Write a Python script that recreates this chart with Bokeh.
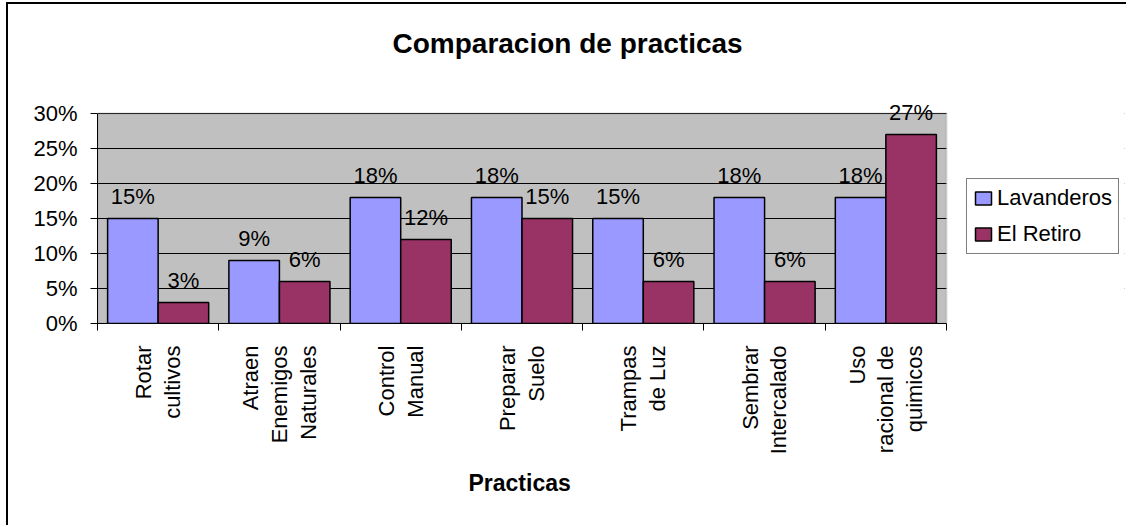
import math
from bokeh.plotting import figure
from bokeh.core.properties import value
from bokeh.models import (ColumnDataSource, Range1d, FixedTicker, NumeralTickFormatter,
                          LabelSet, Legend, LegendItem, BoxAnnotation, Title)
from bokeh.transform import dodge
from bokeh.embed import file_html
from bokeh.resources import INLINE

categories = ["Rotar\ncultivos", "Atraen\nEnemigos\nNaturales", "Control\nManual",
              "Preparar\nSuelo", "Trampas\nde Luz", "Sembrar\nIntercalado",
              "Uso\nracional de\nquimicos"]
lavanderos = [0.15, 0.09, 0.18, 0.18, 0.15, 0.18, 0.18]
el_retiro = [0.03, 0.06, 0.12, 0.15, 0.06, 0.06, 0.27]
y_ticks = [0.0, 0.05, 0.10, 0.15, 0.20, 0.25, 0.30]
series_names = ["Lavanderos", "El Retiro"]

FONT = "Liberation Sans"
n = len(categories)
y_max = y_ticks[-1]
xs = [i + 0.5 for i in range(n)]
src = ColumnDataSource(dict(
    x=xs, lav=lavanderos, ret=el_retiro,
    lav_t=[f"{round(v * 100)}%" for v in lavanderos],
    ret_t=[f"{round(v * 100)}%" for v in el_retiro],
))

# the frame extends above 30% and to the right of the last category so that the
# top data label and the legend are not clipped; the grey box marks the plot area
p = figure(width=1120, height=523, x_range=Range1d(0, n + 1.4676), y_range=Range1d(0, 0.35),
           output_backend="svg", toolbar_location=None,
           min_border_left=89, min_border_top=74, min_border_right=4, min_border_bottom=204,
           background_fill_color="white", border_fill_color="white",
           outline_line_color=None,
           title="Comparacion de practicas")
p.styles = {"margin-left": "6px", "margin-top": "2px",
            "border-left": "2px solid #000", "border-top": "2px solid #000"}

p.title.text_font = FONT
p.title.text_font_size = "28px"
p.title.text_font_style = "bold"
p.title.text_color = "black"
p.title.align = "left"
p.title.offset = 295
p.title.standoff = 40

# grey plot area (0% .. 30%)
p.add_layout(BoxAnnotation(left=0, right=n, bottom=0, top=y_max, fill_color="#C0C0C0",
                           fill_alpha=1, line_color=None, level="image"))

bw = 0.4167
r1 = p.vbar(x=dodge("x", -bw / 2), top="lav", width=bw, source=src,
            fill_color="#9999FF", line_color="black", line_width=1.5)
r2 = p.vbar(x=dodge("x", bw / 2), top="ret", width=bw, source=src,
            fill_color="#993366", line_color="black", line_width=1.5)

# hide the gridlines to the right of the plot area
p.add_layout(BoxAnnotation(left=n, fill_color="white", fill_alpha=1,
                           line_color=None, level="underlay"))
# plot-area border
p.add_layout(BoxAnnotation(left=0, right=n, bottom=0, top=y_max, fill_alpha=0,
                           line_color="#808080", line_width=2, level="underlay"))

for col, tcol, off in (("lav", "lav_t", -bw / 2), ("ret", "ret_t", bw / 2)):
    p.add_layout(LabelSet(x=dodge("x", off), y=col, text=tcol, source=src,
                          text_font=value(FONT), text_font_size="22px", text_color="black",
                          text_align="center", text_baseline="alphabetic", y_offset=15))

# y axis
p.yaxis.ticker = FixedTicker(ticks=y_ticks)
p.yaxis.formatter = NumeralTickFormatter(format="0%")
p.yaxis.bounds = (0, y_max)
p.yaxis.major_tick_out = 7
p.yaxis.major_tick_in = 0
p.yaxis.minor_tick_line_color = None
p.yaxis.axis_line_color = "black"
p.yaxis.major_tick_line_color = "black"
p.yaxis.major_label_standoff = 13
p.yaxis.major_label_text_font = FONT
p.yaxis.major_label_text_font_size = "22px"
p.yaxis.major_label_text_color = "black"

# x axis
p.xaxis.ticker = FixedTicker(ticks=xs, minor_ticks=list(range(n + 1)))
p.xaxis.major_label_overrides = {x: c for x, c in zip(xs, categories)}
p.xaxis.bounds = (0, n)
p.xaxis.major_tick_out = 0
p.xaxis.major_tick_in = 0
p.xaxis.minor_tick_out = 7
p.xaxis.minor_tick_in = 0
p.xaxis.minor_tick_line_color = "black"
p.xaxis.axis_line_color = "black"
p.xaxis.major_label_orientation = math.pi / 2
p.xaxis.major_label_standoff = 15
p.xaxis.major_label_text_font = FONT
p.xaxis.major_label_text_font_size = "22px"
p.xaxis.major_label_text_color = "black"
p.xaxis.major_label_text_line_height = 1.15
p.xaxis.major_label_text_align = "center"

# x-axis title, centred under the plot area (not under the wider frame)
p.add_layout(Title(text="Practicas", align="left", offset=371, standoff=20,
                   text_font=FONT, text_font_size="23px", text_font_style="bold",
                   text_color="black"), "below")

p.xgrid.visible = False
p.ygrid.grid_line_color = "black"
p.ygrid.grid_line_width = 1

legend = Legend(items=[LegendItem(label=series_names[0], renderers=[r1]),
                       LegendItem(label=series_names[1], renderers=[r2])],
                location=(869, 69), orientation="vertical",
                border_line_color="black", border_line_width=1,
                background_fill_color="white", background_fill_alpha=1,
                label_text_font=FONT, label_text_font_size="22px", label_text_color="black",
                glyph_width=20, glyph_height=16, label_standoff=4,
                padding=6, spacing=10, margin=0)
p.add_layout(legend)

open("out.html", "w").write(file_html(p, INLINE))
